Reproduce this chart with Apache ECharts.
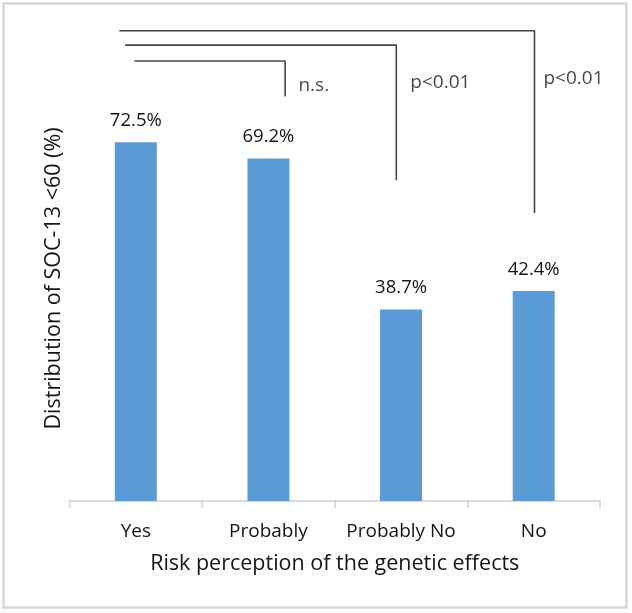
<!DOCTYPE html>
<html>
<head>
<meta charset="utf-8">
<script src="https://cdn.jsdelivr.net/npm/echarts@6/dist/echarts.min.js"></script>
<style>
html,body{margin:0;padding:0;background:#fff;}
#c{width:632px;height:613px;}
</style>
</head>
<body>
<div id="c"></div>
<script>
// ---- data ----
var categories = ['Yes', 'Probably', 'Probably No', 'No'];
var values = [72.5, 69.2, 38.7, 42.4];
var xTitle = 'Risk perception of the genetic effects';
var yTitle = 'Distribution of SOC-13 <60 (%)';
// significance brackets: [x position on category scale, value], category i centre = i + 0.5
var bracketNS = [[0.489, 88.9], [1.626, 88.9], [1.626, 81.7]];
var bracketPNo = [[0.419, 92.1], [2.464, 92.1], [2.464, 64.8]];
var bracketNo = [[0.376, 95.0], [3.506, 95.0], [3.506, 58.2]];
var annotations = [[1.842, 84.0, 'n.s.'], [2.796, 84.5, 'p<0.01'], [3.80, 85.4, 'p<0.01']];

var FONT = '"Open Sans", sans-serif';
var TXT = '#151515';
var chart = echarts.init(document.getElementById('c'));

function bracket(data) {
  return {
    type: 'line', xAxisIndex: 1, yAxisIndex: 0, data: data,
    symbol: 'none', silent: true, animation: false,
    lineStyle: { color: '#454545', width: 1.6 }
  };
}

chart.setOption({
  animation: false,
  backgroundColor: '#ffffff',
  textStyle: { fontFamily: FONT },
  graphic: [{
    type: 'rect', shape: { x: 3.5, y: 3.5, width: 623, height: 604 },
    style: { fill: 'none', stroke: '#d6d6d6', lineWidth: 2.5 }, z: 100
  }],
  grid: { left: 69.5, right: 32, top: 6, bottom: 112 },
  xAxis: [{
    type: 'category', data: categories,
    axisLine: { lineStyle: { color: '#d0d0d0', width: 1.5 } },
    axisTick: { show: true, length: 7, lineStyle: { color: '#d0d0d0', width: 1.5 } },
    axisLabel: { interval: 0, fontSize: 19, color: TXT, fontFamily: FONT, margin: 21 },
    name: xTitle, nameLocation: 'middle', nameGap: 52,
    nameTextStyle: { fontSize: 21.5, color: TXT, fontFamily: FONT }
  }, {
    type: 'value', min: 0, max: 4, show: false
  }],
  yAxis: [{
    type: 'value', min: 0, max: 100,
    axisLine: { show: false }, axisTick: { show: false },
    axisLabel: { show: false }, splitLine: { show: false },
    name: yTitle, nameLocation: 'middle', nameGap: 5,
    nameTextStyle: { fontSize: 21.5, color: TXT, fontFamily: FONT, padding: [0, 50, 0, 0] }
  }],
  series: [{
    type: 'bar', data: values, barWidth: 42,
    itemStyle: { color: '#5b9bd5' },
    label: {
      show: true, position: 'top', distance: 12,
      formatter: '{c}%', fontSize: 18.5, color: TXT, fontFamily: FONT
    }
  },
  bracket(bracketNS), bracket(bracketPNo), bracket(bracketNo),
  {
    type: 'scatter', xAxisIndex: 1, yAxisIndex: 0, symbolSize: 0,
    data: annotations,
    label: {
      show: true, position: 'inside', fontSize: 19, color: TXT, fontFamily: FONT,
      formatter: function (p) { return p.value[2]; }
    }
  }]
});
</script>
</body>
</html>
